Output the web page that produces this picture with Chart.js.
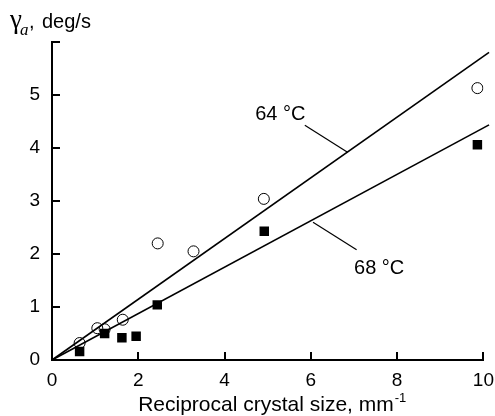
<!DOCTYPE html>
<html>
<head>
<meta charset="utf-8">
<script src="https://cdn.jsdelivr.net/npm/chart.js@4.4.1/dist/chart.umd.min.js"></script>
<style>
  html, body { margin: 0; padding: 0; background: #fff; }
  #wrap { width: 495px; height: 416px; }
</style>
</head>
<body>
<div id="wrap"><canvas id="chart" width="495" height="416"></canvas></div>
<script>
const x64 = [0.64, 1.05, 1.22, 1.64, 2.45, 3.28, 4.91, 9.86];
const y64 = [0.32, 0.60, 0.58, 0.76, 2.20, 2.05, 3.04, 5.13];
const x68 = [0.64, 1.22, 1.62, 1.95, 2.44, 4.92, 9.86];
const y68 = [0.16, 0.50, 0.42, 0.45, 1.04, 2.43, 4.06];

// linear fits through origin
const fitX = [0, 10.13];
const slope64 = 0.573;
const slope68 = 0.438;

const xTicks = [0, 2, 4, 6, 8, 10];
const yTicks = [0, 1, 2, 3, 4, 5, 6];
const yLabelled = [0, 1, 2, 3, 4, 5];

const toPts = (xs, ys) => xs.map((x, i) => ({ x: x, y: ys[i] }));

// curve labels with leader lines (data units)
const curveLabels = [
  { text: '64 °C', x: 4.71, y: 4.52, line: [[5.86, 4.43], [6.85, 3.92]] },
  { text: '68 °C', x: 7.0, y: 1.62, line: [[6.05, 2.60], [7.06, 2.08]] }
];

const SANS = '"Liberation Sans", Arial, sans-serif';
const SERIF = '"Liberation Serif", "Times New Roman", serif';

const decor = {
  id: 'decor',
  afterDraw(chart) {
    const c = chart.ctx;
    const xs = chart.scales.x, ys = chart.scales.y;
    const area = chart.chartArea;
    c.save();
    c.strokeStyle = '#000';
    c.fillStyle = '#000';

    // inward tick marks
    c.lineWidth = 2;
    c.beginPath();
    yTicks.forEach(v => {
      const py = Math.round(ys.getPixelForValue(v));
      c.moveTo(area.left, py);
      c.lineTo(area.left + 8, py);
    });
    xTicks.forEach(v => {
      const px = Math.round(xs.getPixelForValue(v));
      c.moveTo(px, area.bottom);
      c.lineTo(px, area.bottom - 8);
    });
    c.stroke();

    // curve labels
    c.lineWidth = 1.2;
    c.font = '20px ' + SANS;
    c.textBaseline = 'alphabetic';
    c.textAlign = 'left';
    curveLabels.forEach(l => {
      c.fillText(l.text, xs.getPixelForValue(l.x), ys.getPixelForValue(l.y));
      c.beginPath();
      c.moveTo(xs.getPixelForValue(l.line[0][0]), ys.getPixelForValue(l.line[0][1]));
      c.lineTo(xs.getPixelForValue(l.line[1][0]), ys.getPixelForValue(l.line[1][1]));
      c.stroke();
    });

    // y title: gamma_a, deg/s
    c.font = '27px ' + SERIF;
    c.fillText('γ', 10, 28);
    c.font = 'italic 17px ' + SERIF;
    c.fillText('a', 20, 35);
    c.font = '20px ' + SANS;
    c.fillText(',', 29, 28);
    c.fillText('deg/s', 42, 28);

    // x title with superscript
    const main = 'Reciprocal crystal size, mm';
    c.font = '21px ' + SANS;
    const w1 = c.measureText(main).width;
    c.font = '13px ' + SANS;
    const w2 = c.measureText('-1').width;
    const startX = (area.left + area.right) / 2 + 4 - (w1 + w2) / 2;
    c.font = '21px ' + SANS;
    c.fillText(main, startX, 411);
    c.font = '13px ' + SANS;
    c.fillText('-1', startX + w1 + 1, 402);
    c.restore();
  }
};

const ctx = document.getElementById('chart').getContext('2d');
new Chart(ctx, {
  type: 'scatter',
  data: {
    datasets: [
      {
        type: 'line',
        data: fitX.map(x => ({ x: x, y: slope64 * x })),
        borderColor: '#000',
        borderWidth: 1.6,
        pointRadius: 0,
        clip: false
      },
      {
        type: 'line',
        data: fitX.map(x => ({ x: x, y: slope68 * x })),
        borderColor: '#000',
        borderWidth: 1.6,
        pointRadius: 0,
        clip: false
      },
      {
        data: toPts(x64, y64),
        pointStyle: 'circle',
        pointRadius: 5.5,
        borderWidth: 1,
        borderColor: '#000',
        backgroundColor: 'rgba(0,0,0,0)'
      },
      {
        data: toPts(x68, y68),
        pointStyle: 'rect',
        pointRadius: 6.7,
        borderWidth: 0,
        borderColor: '#000',
        backgroundColor: '#000'
      }
    ]
  },
  options: {
    responsive: false,
    animation: false,
    layout: { padding: { top: 42, right: 8, left: 0, bottom: 0 } },
    plugins: {
      legend: { display: false },
      tooltip: { enabled: false }
    },
    scales: {
      x: {
        type: 'linear',
        min: 0,
        max: 10,
        afterFit: s => { s.height = 56; },
        afterBuildTicks: s => { s.ticks = xTicks.map(v => ({ value: v })); },
        grid: { display: false },
        border: { color: '#000', width: 2 },
        ticks: {
          color: '#000',
          padding: 1,
          maxRotation: 0,
          font: { family: SANS, size: 19 }
        }
      },
      y: {
        type: 'linear',
        min: 0,
        max: 6,
        afterFit: s => { s.width = 52; },
        afterBuildTicks: s => { s.ticks = yLabelled.map(v => ({ value: v })); },
        grid: { display: false },
        border: { color: '#000', width: 2 },
        ticks: {
          color: '#000',
          padding: 4,
          font: { family: SANS, size: 19 }
        }
      }
    }
  },
  plugins: [decor]
});
</script>
</body>
</html>
